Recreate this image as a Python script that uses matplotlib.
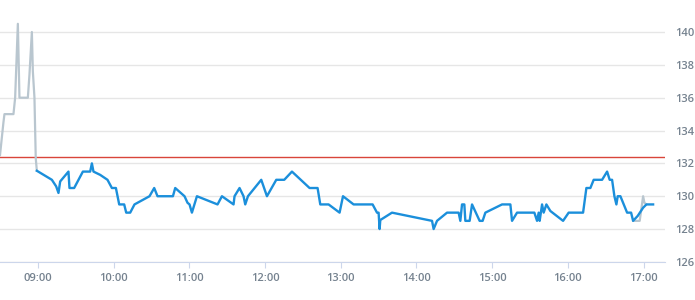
import pandas as pd
import matplotlib.pyplot as plt
import matplotlib.dates as mdates

# pre-market part (gray) and intraday part (blue)
pre_times = ["08:30:00", "08:32:44", "08:33:32", "08:40:40", "08:42:00", "08:44:09",
             "08:45:25", "08:52:04", "08:53:20", "08:55:15", "08:56:02", "08:57:18",
             "08:58:20", "08:59:12"]
pre_values = [132.5, 134.5, 135.0, 135.0, 136.0, 140.5,
              136.0, 136.0, 137.4, 140.0, 137.6, 136.0,
              132.3, 131.55]

post_times = ["16:51:38", "16:56:52", "16:59:34", "17:00:36", "17:02:11"]
post_values = [128.5, 128.5, 130.0, 129.6, 129.5]

day_times = ["08:59:12", "09:11:06", "09:14:30", "09:16:20", "09:17:41", "09:24:15",
             "09:25:03", "09:28:46", "09:35:40", "09:41:27", "09:42:48", "09:44:04",
             "09:49:23", "09:55:10", "09:58:39", "10:01:50", "10:04:27", "10:08:24",
             "10:10:00", "10:13:10", "10:16:34", "10:28:28", "10:32:11", "10:34:48",
             "10:47:01", "10:48:50", "10:56:12", "10:58:35", "11:00:10", "11:02:04",
             "11:06:02", "11:22:22", "11:25:51", "11:35:03", "11:35:50", "11:39:48",
             "11:42:58", "11:44:19", "11:46:28", "11:57:00", "12:01:31", "12:08:54",
             "12:15:14", "12:21:20", "12:35:17", "12:41:38", "12:43:46", "12:50:21",
             "12:59:04", "13:01:46", "13:10:10", "13:25:14", "13:28:43", "13:29:59",
             "13:30:47", "13:31:20", "13:40:36", "14:12:19", "14:13:35", "14:16:16",
             "14:24:12", "14:33:24", "14:34:45", "14:36:05", "14:37:55", "14:38:42",
             "14:42:07", "14:44:01", "14:50:02", "14:52:25", "14:54:34", "15:07:48",
             "15:14:23", "15:15:43", "15:19:41", "15:33:24", "15:35:32", "15:36:49",
             "15:37:36", "15:39:30", "15:40:46", "15:42:55", "15:46:05", "15:56:09",
             "16:00:35", "16:12:00", "16:14:37", "16:17:47", "16:20:24", "16:27:04",
             "16:31:02", "16:33:05", "16:34:59", "16:36:49", "16:38:24", "16:39:26",
             "16:41:34", "16:46:53", "16:50:03", "16:51:38", "16:55:17", "16:59:34",
             "17:02:11", "17:07:29"]
day_values = [131.55, 131.0, 130.6, 130.2, 130.9, 131.5,
              130.5, 130.5, 131.5, 131.5, 132.0, 131.5,
              131.3, 131.0, 130.5, 130.5, 129.5, 129.5,
              129.0, 129.0, 129.5, 130.0, 130.5, 130.0,
              130.0, 130.5, 130.0, 129.6, 129.5, 129.0,
              130.0, 129.5, 130.0, 129.5, 130.0, 130.5,
              130.0, 129.5, 130.0, 131.0, 130.0, 131.0,
              131.0, 131.5, 130.5, 130.5, 129.5, 129.5,
              129.0, 130.0, 129.5, 129.5, 129.0, 129.0,
              128.0, 128.55, 129.0, 128.5, 128.0, 128.5,
              129.0, 129.0, 128.5, 129.5, 129.5, 128.5,
              128.5, 129.5, 128.5, 128.5, 129.0, 129.5,
              129.5, 128.5, 129.0, 129.0, 128.5, 129.0,
              128.5, 129.5, 129.0, 129.5, 129.1, 128.5,
              129.0, 129.0, 130.5, 130.5, 131.0, 131.0,
              131.5, 131.0, 131.0, 130.0, 129.5, 130.0,
              130.0, 129.0, 129.0, 128.5, 128.8, 129.3,
              129.5, 129.5]

ref_price = 132.4
y_ticks = [126, 128, 130, 132, 134, 136, 138, 140]


def to_dt(lst):
    return pd.to_datetime(["2024-01-02 " + t for t in lst])


label_color = "#75828f"

fig = plt.figure(figsize=(6.95, 3.0), dpi=100)
ax = fig.add_axes([0.0, 0.127, 0.957, 0.821])

ax.plot(to_dt(pre_times), pre_values, color="#b9c6cf", lw=1.6, zorder=3)
ax.plot(to_dt(post_times), post_values, color="#b9c6cf", lw=1.6, zorder=3)
ax.plot(to_dt(day_times), day_values, color="#1b8fdb", lw=1.7, zorder=4)
ax.axhline(ref_price, color="#d9453a", lw=1.0, zorder=2)

ax.set_xlim(pd.Timestamp("2024-01-02 08:30:00"), pd.Timestamp("2024-01-02 17:17:00"))
ax.set_ylim(126, 141)
ax.set_yticks(y_ticks)
ax.xaxis.set_major_locator(mdates.HourLocator())
ax.xaxis.set_major_formatter(mdates.DateFormatter("%H:%M"))

ax.yaxis.tick_right()
ax.grid(axis="y", color="#e6e6e6", lw=1.0)
for s in ["top", "left", "right"]:
    ax.spines[s].set_visible(False)
ax.spines["bottom"].set_color("#ccd6eb")
ax.spines["bottom"].set_zorder(1)
ax.tick_params(axis="y", length=0, pad=7, labelsize=8, labelcolor=label_color)
ax.tick_params(axis="x", length=4, color="#ccd6eb", pad=4, labelsize=8, labelcolor=label_color)
for lab in ax.get_xticklabels() + ax.get_yticklabels():
    lab.set_fontfamily("Open Sans")
    lab.set_fontweight("semibold")

fig.savefig("out.png", dpi=100)
